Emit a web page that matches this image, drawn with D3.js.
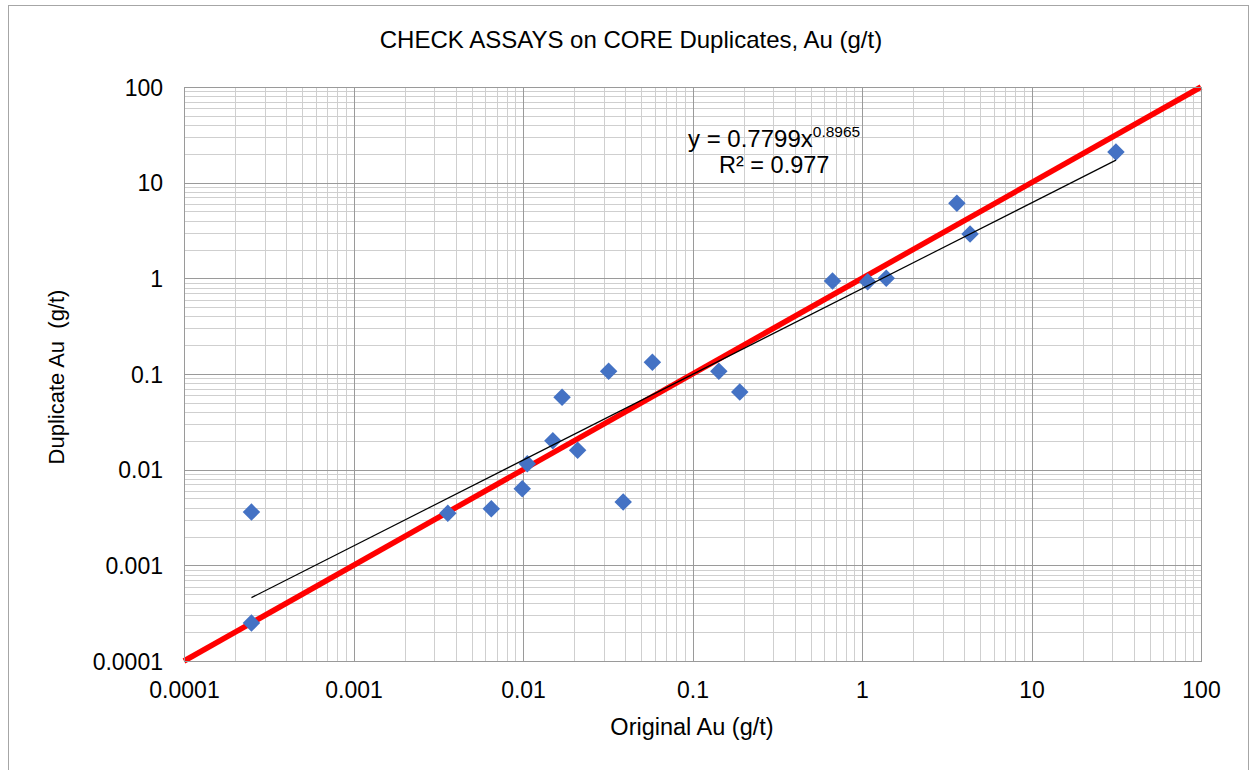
<!DOCTYPE html>
<html>
<head>
<meta charset="utf-8">
<script src="https://cdn.jsdelivr.net/npm/d3@7"></script>
<style>
  html, body { margin: 0; padding: 0; background: #fff; }
  svg { display: block; font-family: "Liberation Sans", Arial, sans-serif; }
</style>
</head>
<body>
<svg id="chart" width="1251" height="770"></svg>
<script>
// ---- data ----
const originalAu  = [0.00025, 0.00025, 0.0036, 0.0065, 0.0099, 0.0106, 0.015, 0.021, 0.017, 0.032, 0.039, 0.058, 0.143, 0.19, 0.67, 1.08, 1.39, 3.63, 4.34, 31.5];
const duplicateAu = [0.0036, 0.00025, 0.0035, 0.0039, 0.0063, 0.0115, 0.020, 0.016, 0.057, 0.107, 0.0046, 0.133, 0.107, 0.065, 0.94, 0.92, 1.0, 6.1, 2.9, 20.9];
const tickValues  = [0.0001, 0.001, 0.01, 0.1, 1, 10, 100];
const tickLabels  = ["0.0001", "0.001", "0.01", "0.1", "1", "10", "100"];
const refLineX    = [0.0001, 100];   // 1:1 line
const refLineY    = [0.0001, 100];
const fitCoef     = 0.7799;          // power trendline y = a x^b
const fitExp      = 0.8965;
const fitR2       = "0.977";
const titleText   = "CHECK ASSAYS on CORE Duplicates, Au (g/t)";
const xTitle      = "Original Au (g/t)";
const yTitle      = "Duplicate Au  (g/t)";

// ---- layout ----
const svg = d3.select("#chart");
const L = 184, R = 1201, T = 87, B = 661;
const x = d3.scaleLog().domain([0.0001, 100]).range([L, R]);
const y = d3.scaleLog().domain([0.0001, 100]).range([B, T]);

// outer chart border
svg.append("rect").attr("x", 8.5).attr("y", 5.5).attr("width", 1240).attr("height", 780)
  .attr("fill", "#fff").attr("stroke", "#a6a6a6").attr("stroke-width", 1);

// gridlines
const minor = [];
tickValues.slice(0, -1).forEach(d => { for (let k = 2; k <= 9; k++) minor.push(d * k); });
const g = svg.append("g");
g.selectAll(".vmin").data(minor).join("line")
  .attr("x1", d => Math.round(x(d)) + 0.5).attr("x2", d => Math.round(x(d)) + 0.5)
  .attr("y1", T).attr("y2", B).attr("stroke", "#cfcfcf").attr("stroke-width", 1);
g.selectAll(".hmin").data(minor).join("line")
  .attr("y1", d => Math.round(y(d)) + 0.5).attr("y2", d => Math.round(y(d)) + 0.5)
  .attr("x1", L).attr("x2", R).attr("stroke", "#cfcfcf").attr("stroke-width", 1);
g.selectAll(".vmaj").data(tickValues).join("line")
  .attr("x1", d => Math.round(x(d)) + 0.5).attr("x2", d => Math.round(x(d)) + 0.5)
  .attr("y1", T).attr("y2", B).attr("stroke", "#9a9a9a").attr("stroke-width", 1);
g.selectAll(".hmaj").data(tickValues).join("line")
  .attr("y1", d => Math.round(y(d)) + 0.5).attr("y2", d => Math.round(y(d)) + 0.5)
  .attr("x1", L).attr("x2", R).attr("stroke", "#9a9a9a").attr("stroke-width", 1);

// axes (labels only)
const xAxis = d3.axisBottom(x).tickValues(tickValues).tickFormat((d, i) => tickLabels[i]).tickSize(0).tickPadding(0);
const xg = svg.append("g").attr("transform", `translate(0,${B})`).call(xAxis);
xg.select(".domain").remove();
xg.selectAll("text").attr("font-size", 23).attr("fill", "#000").attr("font-family", "Liberation Sans, Arial, sans-serif")
  .attr("dy", null).attr("y", 37);

const yAxis = d3.axisLeft(y).tickValues(tickValues).tickFormat((d, i) => tickLabels[i]).tickSize(0).tickPadding(21);
const yg = svg.append("g").attr("transform", `translate(${L},0)`).call(yAxis);
yg.select(".domain").remove();
yg.selectAll("text").attr("font-size", 23).attr("fill", "#000").attr("font-family", "Liberation Sans, Arial, sans-serif")
  .attr("dy", "0.35em");

// 1:1 reference line
const line = d3.line().x(d => x(d[0])).y(d => y(d[1]));
svg.append("path").datum(refLineX.map((v, i) => [v, refLineY[i]]))
  .attr("d", line).attr("stroke", "#ff0000").attr("stroke-width", 5.5).attr("fill", "none");

// data points (diamonds)
const pts = originalAu.map((v, i) => [v, duplicateAu[i]]);
const sym = d3.symbol().type(d3.symbolDiamond2).size(195);
svg.selectAll(".pt").data(pts).join("path")
  .attr("transform", d => `translate(${x(d[0])},${y(d[1])})`)
  .attr("d", sym).attr("fill", "#4472C4");

// power trendline over data range
const xMin = d3.min(originalAu), xMax = d3.max(originalAu);
const fitPts = [xMin, xMax].map(v => [v, fitCoef * Math.pow(v, fitExp)]);
svg.append("path").datum(fitPts).attr("d", line).attr("stroke", "#000").attr("stroke-width", 1.2).attr("fill", "none");

// plot area border
svg.append("rect").attr("x", L + 0.5).attr("y", T + 0.5).attr("width", R - L).attr("height", B - T)
  .attr("fill", "none").attr("stroke", "#9a9a9a").attr("stroke-width", 1);

// equation label
const eq = svg.append("text").attr("x", 688).attr("y", 147).attr("font-size", 24).attr("fill", "#000");
eq.append("tspan").text(`y = ${fitCoef}x`);
eq.append("tspan").attr("font-size", 15.5).attr("dy", -10).text(fitExp);
const r2 = svg.append("text").attr("x", 719).attr("y", 173).attr("font-size", 23.5).attr("fill", "#000");
r2.text(`R² = ${fitR2}`);

// titles
svg.append("text").attr("x", 631).attr("y", 48).attr("text-anchor", "middle")
  .attr("font-size", 24).attr("fill", "#000").text(titleText);
svg.append("text").attr("x", 692).attr("y", 735).attr("text-anchor", "middle")
  .attr("font-size", 23.5).attr("fill", "#000").text(xTitle);
svg.append("text").attr("transform", "translate(64,377) rotate(-90)").attr("text-anchor", "middle")
  .attr("font-size", 22).attr("fill", "#000").attr("xml:space", "preserve").text(yTitle);
</script>
</body>
</html>
